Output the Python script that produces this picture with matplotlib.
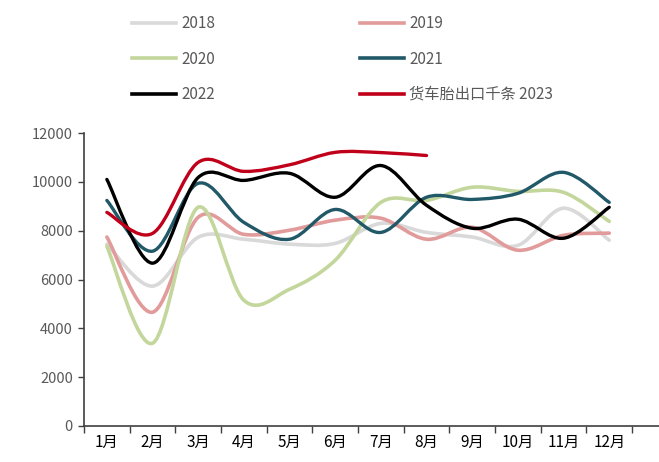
import numpy as np
import matplotlib.pyplot as plt
from matplotlib.path import Path
from matplotlib.patches import PathPatch
from matplotlib.lines import Line2D

plt.rcParams['font.family'] = ['Noto Sans CJK SC', 'DejaVu Sans']

months = ['1月', '2月', '3月', '4月', '5月', '6月', '7月', '8月', '9月', '10月', '11月', '12月']

v2018 = [7450, 5730, 7730, 7650, 7450, 7480, 8300, 7930, 7740, 7400, 8920, 7610]
v2019 = [7740, 4660, 8550, 7850, 8020, 8430, 8510, 7650, 8140, 7200, 7810, 7900]
v2020 = [7360, 3390, 8960, 5150, 5600, 6790, 9160, 9240, 9780, 9610, 9570, 8380]
v2021 = [9240, 7160, 9940, 8340, 7650, 8870, 7930, 9370, 9280, 9530, 10390, 9160]
v2022 = [10100, 6670, 10180, 10060, 10350, 9370, 10670, 9040, 8100, 8470, 7690, 8960]
v2023 = [8750, 7890, 10800, 10430, 10700, 11210, 11200, 11080]

series = [
    ('2018', v2018, '#d9d9d9', 2.6),
    ('2019', v2019, '#e29b9b', 2.6),
    ('2020', v2020, '#c3d69b', 2.6),
    ('2021', v2021, '#215968', 2.4),
    ('2022', v2022, '#000000', 2.4),
    ('货车胎出口千条 2023', v2023, '#c0001a', 2.4),
]


def smooth_path(ys):
    # excel-like smoothed line: cubic bezier segments through each point
    xs = np.arange(len(ys), dtype=float)
    ys = np.asarray(ys, dtype=float)
    pts = np.column_stack([xs, ys])
    n = len(pts)
    verts = [pts[0]]
    codes = [Path.MOVETO]
    for i in range(n - 1):
        p0 = pts[i - 1] if i > 0 else pts[i]
        p1 = pts[i]
        p2 = pts[i + 1]
        p3 = pts[i + 2] if i + 2 < n else pts[i + 1]
        c1 = p1 + (p2 - p0) / 6.0
        c2 = p2 - (p3 - p1) / 6.0
        verts += [c1, c2, p2]
        codes += [Path.CURVE4] * 3
    return Path(verts, codes)


fig = plt.figure(figsize=(6.59, 4.62), dpi=100)
ax = fig.add_axes([0.1275, 0.078, 0.8725, 0.634])

handles = []
for name, vals, col, lw in series:
    patch = PathPatch(smooth_path(vals), facecolor='none', edgecolor=col,
                      lw=lw, capstyle='round', joinstyle='round')
    ax.add_patch(patch)
    handles.append(Line2D([], [], color=col, lw=2.6, label=name))

ax.set_xlim(-0.5, 12.09)
ax.set_ylim(0, 12000)
ax.set_yticks(np.arange(0, 12001, 2000))
ax.set_xticks(np.arange(-0.5, 12, 1))
ax.set_xticklabels([])
ax.set_xticks(np.arange(12), minor=True)
ax.set_xticklabels(months, minor=True)
ax.tick_params(axis='x', which='minor', length=0, pad=6, labelsize=11)
ax.tick_params(axis='x', which='major', length=5, color='#404040', width=1)
ax.tick_params(axis='y', length=4, color='#404040', width=1, pad=4, labelsize=10.5)
ax.tick_params(labelcolor='#595959')

for s in ['top', 'right']:
    ax.spines[s].set_visible(False)
for s in ['left', 'bottom']:
    ax.spines[s].set_color('#404040')
    ax.spines[s].set_linewidth(1.2)

# legend is filled column by column, so reorder to read row by row
order = [0, 2, 4, 1, 3, 5]
fig.legend(handles=[handles[i] for i in order], loc='upper left',
           bbox_to_anchor=(0.19, 0.982), ncol=2, frameon=False,
           fontsize=11, labelcolor='#595959',
           handlelength=2.9, handletextpad=0.3, columnspacing=9.5,
           labelspacing=1.2, borderaxespad=0.0, borderpad=0.45)

fig.savefig('out.png', dpi=100)
